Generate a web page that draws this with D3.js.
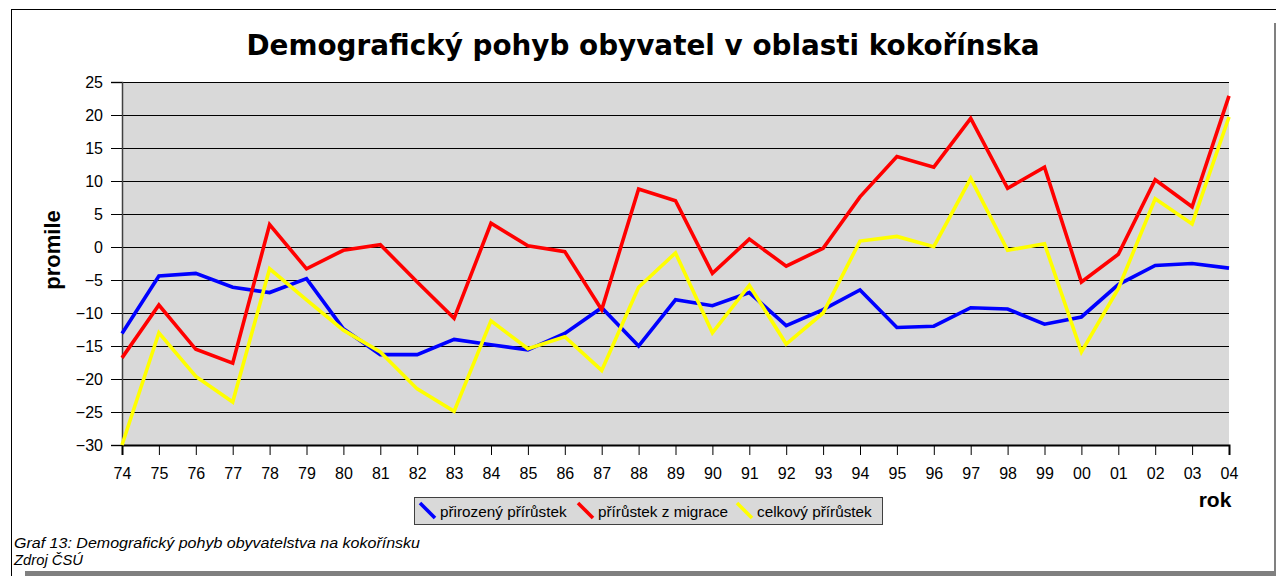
<!DOCTYPE html>
<html><head><meta charset="utf-8">
<script src="https://cdn.jsdelivr.net/npm/d3@7"></script>
<style>body{margin:0;background:#fff;}svg{display:block;}</style>
</head><body>
<svg id="c" width="1276" height="576"></svg>
<script>
const years = ["74","75","76","77","78","79","80","81","82","83","84","85","86","87","88","89","90","91","92","93","94","95","96","97","98","99","00","01","02","03","04"];
const prirozeny = [-13.1,-4.4,-4.0,-6.1,-6.9,-4.8,-12.4,-16.3,-16.3,-14.0,-14.8,-15.6,-13.1,-9.2,-15.0,-8.0,-8.9,-6.9,-11.9,-9.5,-6.5,-12.2,-12.0,-9.2,-9.4,-11.7,-10.6,-5.7,-2.8,-2.5,-3.2];
const migrace = [-16.8,-8.8,-15.5,-17.6,3.4,-3.3,-0.5,0.35,-5.3,-10.8,3.6,0.2,-0.7,-9.5,8.8,7.0,-4.0,1.2,-2.9,-0.2,7.6,13.7,12.1,19.5,8.9,12.1,-5.3,-1.1,10.2,6.1,22.9];
const celkovy = [-30.0,-13.0,-19.6,-23.5,-3.3,-8.0,-12.6,-15.9,-21.5,-24.9,-11.2,-15.4,-13.6,-18.7,-6.1,-0.9,-13.0,-5.8,-14.7,-10.0,0.9,1.6,0.05,10.4,-0.5,0.5,-15.9,-6.3,7.3,3.5,19.7];
const yTicks = [25,20,15,10,5,0,-5,-10,-15,-20,-25,-30];
const seriesNames = ["přirozený přírůstek","přírůstek z migrace","celkový přírůstek"];
const seriesColors = ["#0000ff","#ff0000","#ffff00"];

const svg = d3.select("#c");
const L = 122, R = 1229, T = 82, B = 445;
const x = d3.scalePoint().domain(years).range([L, R]);
const y = d3.scaleLinear().domain([-30, 25]).range([B, T]);

// frame
svg.append("line").attr("x1",11.5).attr("x2",11.5).attr("y1",9.5).attr("y2",576).attr("stroke","#000").attr("stroke-width",1);
svg.append("line").attr("x1",11).attr("x2",1276).attr("y1",9.5).attr("y2",9.5).attr("stroke","#000").attr("stroke-width",1);
svg.append("rect").attr("x",1274).attr("y",23).attr("width",2).attr("height",553).attr("fill","#808080");
svg.append("rect").attr("x",25).attr("y",571).attr("width",1251).attr("height",5).attr("fill","#808080");

// title
svg.append("text").attr("x",643).attr("y",55).attr("text-anchor","middle")
  .attr("font-family","DejaVu Sans, Verdana, sans-serif").attr("font-weight","bold")
  .attr("font-size",29).attr("textLength",793).attr("lengthAdjust","spacingAndGlyphs")
  .text("Demografický pohyb obyvatel v oblasti kokořínska");

// plot bg
svg.append("rect").attr("x",L).attr("y",T).attr("width",R-L).attr("height",B-T).attr("fill","#d9d9d9");

// grid
svg.append("g").selectAll("line").data(yTicks.filter(d=>d>-30)).join("line")
  .attr("x1",L).attr("x2",R).attr("y1",d=>Math.round(y(d))+0.5).attr("y2",d=>Math.round(y(d))+0.5)
  .attr("stroke","#000").attr("stroke-width",1);

// y axis
const ya = svg.append("g").attr("transform",`translate(${L},0)`)
  .call(d3.axisLeft(y).tickValues(yTicks).tickSize(11).tickPadding(8).tickFormat(d3.format("d")));
ya.select(".domain").attr("stroke","#404040").attr("stroke-width",1.5);
ya.selectAll("text").attr("font-family","Liberation Sans, Arial, sans-serif").attr("font-size",16).attr("fill","#000");
ya.selectAll(".tick line").attr("stroke","#000");

// x axis
const xa = svg.append("g").attr("transform",`translate(0,${B})`)
  .call(d3.axisBottom(x).tickSize(10).tickPadding(13));
xa.select(".domain").attr("stroke","#000").attr("stroke-width",2);
xa.selectAll("text").attr("font-family","Liberation Sans, Arial, sans-serif").attr("font-size",16).attr("fill","#000");
xa.selectAll(".tick line").attr("stroke","#000");

// axis titles
svg.append("text").attr("transform","translate(60,250) rotate(-90)").attr("text-anchor","middle")
  .attr("font-family","Liberation Sans, Arial, sans-serif").attr("font-weight","bold").attr("font-size",22).text("promile");
svg.append("text").attr("x",1215).attr("y",507).attr("text-anchor","middle")
  .attr("font-family","Liberation Sans, Arial, sans-serif").attr("font-weight","bold").attr("font-size",21).text("rok");

// lines
const line = d3.line().x((d,i)=>x(years[i])).y(d=>y(d));
[prirozeny, migrace, celkovy].forEach((s,k)=>{
  svg.append("path").datum(s).attr("d",line).attr("fill","none")
    .attr("stroke",seriesColors[k]).attr("stroke-width",3.6).attr("stroke-linejoin","miter");
});

// legend
svg.append("rect").attr("x",414.5).attr("y",497.5).attr("width",468).attr("height",27)
  .attr("fill","#d9d9d9").attr("stroke","#404040").attr("stroke-width",1);
const legX = [420, 578, 737];
seriesNames.forEach((n,k)=>{
  svg.append("line").attr("x1",legX[k]).attr("y1",503).attr("x2",legX[k]+15).attr("y2",518)
    .attr("stroke",seriesColors[k]).attr("stroke-width",3.6);
  svg.append("text").attr("x",legX[k]+20).attr("y",517)
    .attr("font-family","Liberation Sans, Arial, sans-serif").attr("font-size",15.3).text(n);
});

// caption
svg.append("text").attr("x",14).attr("y",548).attr("font-family","Liberation Sans, Arial, sans-serif")
  .attr("font-style","italic").attr("font-size",15).attr("textLength",406).attr("lengthAdjust","spacingAndGlyphs")
  .text("Graf 13: Demografický pohyb obyvatelstva na kokořínsku");
svg.append("text").attr("x",14).attr("y",565).attr("font-family","Liberation Sans, Arial, sans-serif")
  .attr("font-style","italic").attr("font-size",15).attr("textLength",69).attr("lengthAdjust","spacingAndGlyphs")
  .text("Zdroj ČSÚ");
</script>
</body></html>
